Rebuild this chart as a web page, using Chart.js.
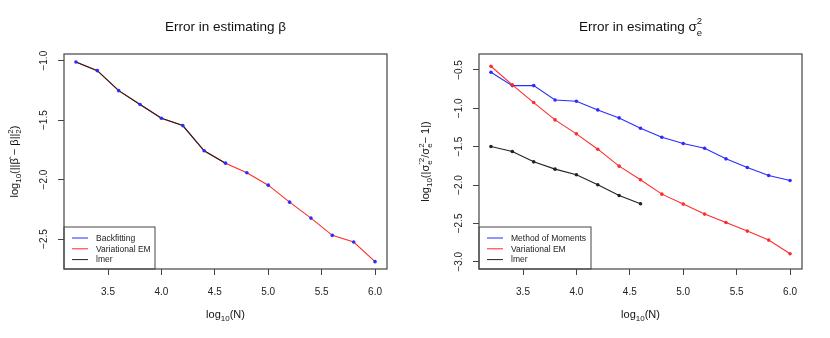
<!DOCTYPE html>
<html>
<head>
<meta charset="utf-8">
<script src="https://cdn.jsdelivr.net/npm/chart.js@4.4.0/dist/chart.umd.min.js"></script>
<style>
  body { margin: 0; background: #fff; }
  #wrap { position: relative; width: 830px; height: 338px; }
  .cell { position: absolute; top: 0; width: 415px; height: 338px; }
</style>
</head>
<body>
<div id="wrap">
  <div class="cell" style="left:0"><canvas id="left-canvas"></canvas></div>
  <div class="cell" style="left:415px"><canvas id="right-canvas"></canvas></div>
</div>
<script>
// x values: log10(N)
const logN = [3.2, 3.4, 3.6, 3.8, 4.0, 4.2, 4.4, 4.6, 4.8, 5.0, 5.2, 5.4, 5.6, 5.8, 6.0];

// Error in estimating beta
const betaBackfit = [-1.011, -1.084, -1.252, -1.369, -1.484, -1.546, -1.758, -1.862, -1.943, -2.047, -2.19, -2.324, -2.469, -2.525, -2.69];
const betaVarEM   = [-1.011, -1.084, -1.252, -1.369, -1.484, -1.546, -1.758, -1.862, -1.943, -2.047, -2.19, -2.324, -2.469, -2.525, -2.69];
const betaLmer    = [-1.011, -1.084, -1.252, -1.369, -1.484, -1.546, -1.758, -1.862];

// Error in estimating sigma_e^2
const sigmaMoments = [-0.530, -0.704, -0.704, -0.891, -0.908, -1.021, -1.125, -1.260, -1.377, -1.459, -1.520, -1.659, -1.772, -1.876, -1.941];
const sigmaVarEM   = [-0.452, -0.695, -0.925, -1.151, -1.333, -1.533, -1.754, -1.932, -2.119, -2.249, -2.379, -2.488, -2.601, -2.718, -2.896];
const sigmaLmer    = [-1.498, -1.563, -1.698, -1.793, -1.867, -1.997, -2.136, -2.245];

const xTicks = [3.5, 4.0, 4.5, 5.0, 5.5, 6.0];
const betaTicks = [-1.0, -1.5, -2.0, -2.5];
const sigmaTicks = [-0.5, -1.0, -1.5, -2.0, -2.5, -3.0];

const FONT = '"Liberation Sans", Arial, sans-serif';
const BLUE = '#2b2bff';
const RED = '#ff2b2b';
const BLACK = '#222';

function pts(ys) {
  return ys.map((y, i) => ({ x: logN[i], y: y }));
}

function fmt(v) {
  const s = Math.abs(v).toFixed(1);
  return v < 0 ? '\u2212' + s : s;
}

// draw a run of text pieces; piece = {t, s, dy} or {sup, sub, s}
function measure(ctx, parts) {
  let w = 0;
  parts.forEach(p => {
    ctx.font = p.s + 'px ' + FONT;
    if (p.sup !== undefined) {
      p.w = Math.max(ctx.measureText(p.sup).width, ctx.measureText(p.sub).width);
    } else {
      p.w = ctx.measureText(p.t).width;
    }
    w += p.w;
  });
  return w;
}

function drawRich(ctx, parts, cx, base) {
  const total = measure(ctx, parts);
  let x = cx - total / 2;
  ctx.textAlign = 'left';
  ctx.textBaseline = 'alphabetic';
  parts.forEach(p => {
    ctx.font = p.s + 'px ' + FONT;
    if (p.sup !== undefined) {
      ctx.fillText(p.sup, x, base + p.supDy);
      ctx.fillText(p.sub, x, base + p.subDy);
    } else {
      ctx.fillText(p.t, x, base + (p.dy || 0));
    }
    x += p.w;
  });
}

function makePlugin(cfg) {
  return {
    id: 'rdecor',
    afterDraw(chart) {
      const ctx = chart.ctx;
      const a = chart.chartArea;
      ctx.save();
      // plot box
      ctx.strokeStyle = '#444';
      ctx.lineWidth = 1.2;
      ctx.strokeRect(a.left, a.top, a.right - a.left, a.bottom - a.top);

      ctx.fillStyle = '#111';
      const mid = (a.left + a.right) / 2;
      // title
      drawRich(ctx, cfg.title, mid, 31);
      // x label
      drawRich(ctx, [
        { t: 'log', s: 11 }, { t: '10', s: 8, dy: 3 }, { t: '(N)', s: 11 }
      ], mid, 318);
      // y label (rotated)
      ctx.save();
      ctx.translate(cfg.yLabelX, (a.top + a.bottom) / 2);
      ctx.rotate(-Math.PI / 2);
      drawRich(ctx, cfg.yLabel, 0, 4);
      ctx.restore();

      // legend
      const lx = a.left, lw = cfg.legendW, lh = 42;
      const ly = a.bottom - lh;
      ctx.strokeStyle = '#444';
      ctx.lineWidth = 1;
      ctx.strokeRect(lx, ly, lw, lh);
      ctx.font = '8.5px ' + FONT;
      ctx.textAlign = 'left';
      ctx.textBaseline = 'middle';
      cfg.legend.forEach((item, i) => {
        const yy = ly + 11 + i * 10.8;
        ctx.strokeStyle = item.color;
        ctx.lineWidth = 1;
        ctx.beginPath();
        ctx.moveTo(lx + 8, yy);
        ctx.lineTo(lx + 24, yy);
        ctx.stroke();
        ctx.fillStyle = '#222';
        ctx.fillText(item.label, lx + 32, yy + 0.5);
      });
      ctx.restore();
    }
  };
}

function axisOpts(min, max, ticks, isY) {
  const o = {
    type: 'linear',
    min: min,
    max: max,
    afterBuildTicks: s => { s.ticks = ticks.map(v => ({ value: v })); },
    ticks: {
      callback: v => fmt(v),
      color: '#222',
      font: { family: FONT, size: 10 },
      padding: isY ? 4 : 11,
      autoSkip: false
    },
    grid: {
      drawOnChartArea: false,
      drawTicks: true,
      tickLength: 6,
      color: '#444',
      lineWidth: 1
    },
    border: { display: false }
  };
  if (isY) {
    o.ticks.minRotation = 90;
    o.ticks.maxRotation = 90;
    o.ticks.crossAlign = 'center';
    o.afterFit = s => { s.width = 64; };
  } else {
    o.ticks.maxRotation = 0;
    o.afterFit = s => { s.height = 69; };
  }
  return o;
}

function lineSet(label, data, color, showPts, order) {
  return {
    label: label,
    data: data,
    borderColor: color,
    backgroundColor: color,
    borderWidth: 1.1,
    pointRadius: showPts ? 1.8 : 0,
    pointBorderWidth: 0,
    pointBackgroundColor: color,
    tension: 0,
    order: order
  };
}

function buildChart(id, datasets, yMin, yMax, yTicks, deco) {
  new Chart(document.getElementById(id), {
    type: 'line',
    data: { datasets: datasets },
    options: {
      responsive: false,
      animation: false,
      devicePixelRatio: 1,
      layout: { padding: { top: 54, right: 28, left: 0, bottom: 0 } },
      plugins: { legend: { display: false }, title: { display: false }, tooltip: { enabled: false } },
      scales: {
        x: axisOpts(3.088, 6.112, xTicks, false),
        y: axisOpts(yMin, yMax, yTicks, true)
      }
    },
    plugins: [makePlugin(deco)]
  });
}

['left-canvas', 'right-canvas'].forEach(id => {
  const c = document.getElementById(id);
  c.width = 415; c.height = 338;
  c.style.width = '415px'; c.style.height = '338px';
});

// left chart
const blueDots = lineSet('Backfitting', pts(betaBackfit), BLUE, true, 0);
blueDots.showLine = false;
buildChart('left-canvas', [
  lineSet('Variational EM', pts(betaVarEM), RED, false, 2),
  lineSet('lmer', pts(betaLmer), BLACK, false, 1),
  blueDots
], -2.752, -0.944, betaTicks, {
  title: [{ t: 'Error in estimating \u03b2', s: 13.5 }],
  yLabelX: 14,
  yLabel: [
    { t: 'log', s: 11 }, { t: '10', s: 8, dy: 3 },
    { t: '(||\u03b2\u0302 \u2212 \u03b2||', s: 11 },
    { sup: '2', sub: '2', s: 8, supDy: -5, subDy: 3 },
    { t: ')', s: 11 }
  ],
  legendW: 91,
  legend: [
    { label: 'Backfitting', color: BLUE },
    { label: 'Variational EM', color: RED },
    { label: 'lmer', color: BLACK }
  ]
});

// right chart
buildChart('right-canvas', [
  lineSet('Method of Moments', pts(sigmaMoments), BLUE, true, 2),
  lineSet('Variational EM', pts(sigmaVarEM), RED, true, 1),
  lineSet('lmer', pts(sigmaLmer), BLACK, true, 0)
], -3.095, -0.292, sigmaTicks, {
  title: [
    { t: 'Error in esimating \u03c3', s: 13.5 },
    { sup: '2', sub: 'e', s: 9.5, supDy: -7, subDy: 5 }
  ],
  yLabelX: 425 - 415,
  yLabel: [
    { t: 'log', s: 11 }, { t: '10', s: 8, dy: 3 },
    { t: '(|\u03c3', s: 11 },
    { sup: '\u02c62', sub: 'e', s: 8, supDy: -5, subDy: 3 },
    { t: '/\u03c3', s: 11 },
    { sup: '2', sub: 'e', s: 8, supDy: -5, subDy: 3 },
    { t: '\u2212 1|)', s: 11 }
  ],
  legendW: 112,
  legend: [
    { label: 'Method of Moments', color: BLUE },
    { label: 'Variational EM', color: RED },
    { label: 'lmer', color: BLACK }
  ]
});
</script>
</body>
</html>
